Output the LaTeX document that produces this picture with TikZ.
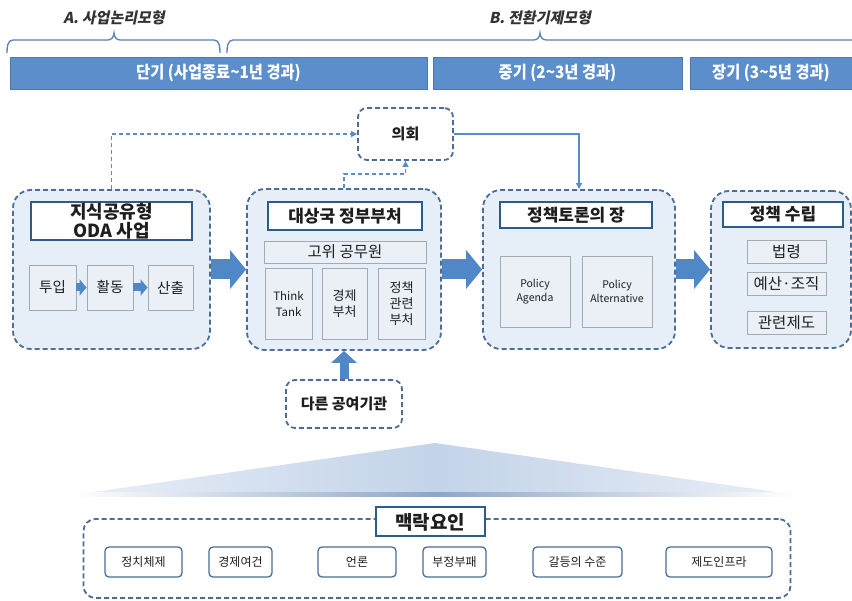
\documentclass[tikz,border=0pt]{standalone}
\usepackage{fontspec}
\setmainfont{Noto Sans CJK KR}
\newfontfamily\hdrfont[FakeSlant=0.2]{Noto Sans CJK KR}
\newfontfamily\barfont[FakeStretch=0.9]{Noto Sans CJK KR}
\usetikzlibrary{arrows.meta,calc}
\definecolor{barblue}{HTML}{5B8ECB}
\definecolor{arrblue}{HTML}{4F87C7}
\definecolor{dashc}{HTML}{4B6D96}
\definecolor{connc}{HTML}{5A8CC8}
\definecolor{boxfill}{HTML}{E6EEF8}
\definecolor{titlec}{HTML}{2D5B8A}
\definecolor{subc}{HTML}{A3AAB5}
\definecolor{subfill}{HTML}{EBF0F7}
\definecolor{txt}{HTML}{1E1E1E}
\definecolor{hdrc}{HTML}{333333}
\definecolor{bracec}{HTML}{5B80B2}
\definecolor{trimid}{HTML}{C3D3E9}
\definecolor{triend}{HTML}{E9EFF7}
\definecolor{shadc}{HTML}{8DA6C6}
\tikzset{
  bigbox/.style={draw=dashc, line width=1.8pt, dash pattern=on 5pt off 3pt, rounded corners=18pt, fill=boxfill, inner sep=0pt},
  smallbox/.style={draw=dashc, line width=1.8pt, dash pattern=on 5pt off 3pt, rounded corners=9pt, fill=white, inner sep=0pt, text=txt, font=\bfseries\fontsize{15}{17}\selectfont},
  titlebox/.style={draw=titlec, line width=2pt, fill=white, inner sep=0pt, align=center, text=txt, font=\bfseries\fontsize{17}{19}\selectfont},
  subbox/.style={draw=subc, line width=0.8pt, fill=subfill, inner sep=0pt, align=center, text=txt, font=\fontsize{13}{16}\selectfont},
  ctxitem/.style={draw=dashc, line width=1.3pt, rounded corners=4pt, fill=white, minimum height=30pt, inner sep=0pt, text=txt, font=\fontsize{12}{14}\selectfont},
  barbox/.style={fill=barblue, draw=barblue!85!black, line width=0.6pt, minimum height=32pt, inner sep=0pt, text=white, font=\barfont\bfseries\fontsize{17}{19}\selectfont},
  hdr/.style={text=hdrc, font=\hdrfont\bfseries\fontsize{15}{17}\selectfont},
  bigarrow/.style={draw=arrblue, line width=20pt, -{Triangle[length=16pt,width=38pt]}},
  smallarrow/.style={draw=arrblue, line width=8pt, -{Triangle[length=7pt,width=16pt]}},
  uparrow/.style={draw=arrblue, line width=9pt, -{Triangle[length=12pt,width=25pt]}},
  dconn/.style={draw=connc, line width=1.5pt, dash pattern=on 4pt off 3pt, -{Triangle[length=6pt,width=6pt]}},
  sconn/.style={draw=connc, line width=1.2pt, -{Triangle[length=6pt,width=6pt]}},
}
\begin{document}
\begin{tikzpicture}[x=1pt,y=-1pt]
\useasboundingbox[fill=white] (0,0) rectangle (852,601);

% headers
\node[hdr] (ha) at (114,18) {A. 사업논리모형};
\node[hdr] (hb) at (540,18) {B. 전환기제모형};
\draw[bracec, line width=1.3pt] (7,53) to[out=90,in=180] (13,40) -- (108,40) to[out=0,in=-90] (114,33) to[out=-90,in=180] (120,40) -- (214,40) to[out=0,in=90] (220,53);
\draw[bracec, line width=1.3pt] (227,53) to[out=90,in=180] (233,40) -- (534,40) to[out=0,in=-90] (540,33) to[out=-90,in=180] (546,40) -- (860,40);

% bars
\node[barbox, minimum width=417pt] (b1) at (218.5,73) {단기 (사업종료\textasciitilde 1년 경과)};
\node[barbox, minimum width=249pt] (b2) at (557.5,73) {중기 (2\textasciitilde 3년 경과)};
\node[barbox, minimum width=170pt] (b3) at (775,73) {\hspace*{-8pt}장기 (3\textasciitilde 5년 경과)};

% parliament
\node[smallbox, minimum width=95pt, minimum height=52pt] (parl) at (405.5,134) {의회};

% box 1
\node[bigbox, minimum width=197pt, minimum height=159pt] (ks) at (111.5,269.5) {};
\node[titlebox, minimum width=161pt, minimum height=38pt, font=\bfseries\fontsize{18}{19}\selectfont] (kst) at (111.5,221) {지식공유형\\ODA 사업};
\node[subbox, minimum width=47pt, minimum height=45pt, font=\fontsize{14.5}{16}\selectfont] (inp) at (52.5,287.5) {투입};
\node[subbox, minimum width=46pt, minimum height=45pt, font=\fontsize{14.5}{16}\selectfont] (act) at (110,287.5) {활동};
\node[subbox, minimum width=45pt, minimum height=45pt, font=\fontsize{14.5}{16}\selectfont] (outp) at (170.5,287.5) {산출};
\draw[smallarrow] (inp.east) -- (act.west);
\draw[smallarrow] (act.east) -- (outp.west);

% box 2
\node[bigbox, minimum width=194pt, minimum height=161pt] (gov) at (344,269.5) {};
\node[titlebox, minimum width=154pt, minimum height=28pt] (govt) at (345,216) {대상국 정부부처};
\node[subbox, minimum width=162pt, minimum height=22pt, font=\fontsize{15.5}{17}\selectfont] (senior) at (345,252) {고위 공무원};
\node[subbox, minimum width=47pt, minimum height=71pt, font=\fontsize{11.5}{16}\selectfont] (tt) at (288.5,303.5) {Think\\Tank};
\node[subbox, minimum width=45pt, minimum height=71pt] (econ) at (344.5,303.5) {경제\\부처};
\node[subbox, minimum width=47pt, minimum height=71pt] (poldep) at (401.5,303.5) {정책\\관련\\부처};

% box 3
\node[bigbox, minimum width=192pt, minimum height=159pt] (forum) at (579,269.5) {};
\node[titlebox, minimum width=152pt, minimum height=26pt] (forumt) at (576,215) {정책토론의 장};
\node[subbox, minimum width=70pt, minimum height=71pt, font=\fontsize{10.5}{14}\selectfont] (agenda) at (535,291.5) {Policy\\Agenda};
\node[subbox, minimum width=70pt, minimum height=71pt, font=\fontsize{10.5}{14}\selectfont] (alt) at (617,291.5) {Policy\\Alternative};

% box 4
\node[bigbox, minimum width=140pt, minimum height=157pt] (make) at (781,269.5) {};
\node[titlebox, minimum width=120pt, minimum height=25pt] (maket) at (783,214.5) {정책 수립};
\node[subbox, minimum width=79pt, minimum height=23pt, font=\fontsize{15.5}{17}\selectfont] (law) at (786.5,251.5) {법령};
\node[subbox, minimum width=79pt, minimum height=23pt, font=\fontsize{15.5}{17}\selectfont] (budget) at (786.5,284) {예산·조직};
\node[subbox, minimum width=79pt, minimum height=23pt, font=\fontsize{15.5}{17}\selectfont] (inst) at (786.5,323) {관련제도};

% big arrows
\draw[bigarrow] (ks.east) -- (gov.west);
\draw[bigarrow] (gov.east) -- (forum.west);
\draw[bigarrow] (forum.east) -- (make.west);

% connectors
\draw[dconn] (ks.north) |- (parl.west);
\draw[dconn] (gov.north) -- ++(0,-14) -| (parl.south);
\draw[sconn] (parl.east) -| (forum.north);

% donors
\node[smallbox, minimum width=116pt, minimum height=48pt] (donor) at (344,404) {다른 공여기관};
\draw[uparrow] (donor.north) -- (gov.south);

% triangle
\shade[left color=triend, right color=triend, middle color=trimid] (73,495) -- (435,443) -- (797,495) -- cycle;
\shade[left color=white, right color=white, middle color=shadc] (73,492.5) rectangle (797,497);

% context factors
\node[bigbox, fill=white, rounded corners=12pt, minimum width=707pt, minimum height=79pt] (ctx) at (437,558.5) {};
\node[titlebox, minimum width=109pt, minimum height=29pt, font=\bfseries\fontsize{19}{21}\selectfont] (ctxt) at (430,522) {맥락요인};
\node[ctxitem, minimum width=77pt] (c1) at (143.5,562) {정치체제};
\node[ctxitem, minimum width=63pt] (c2) at (240.5,562) {경제여건};
\node[ctxitem, minimum width=78pt] (c3) at (357,562) {언론};
\node[ctxitem, minimum width=63pt] (c4) at (454.5,562) {부정부패};
\node[ctxitem, minimum width=89pt] (c5) at (577.5,562) {갈등의 수준};
\node[ctxitem, minimum width=106pt] (c6) at (719,562) {제도인프라};
\end{tikzpicture}
\end{document}
